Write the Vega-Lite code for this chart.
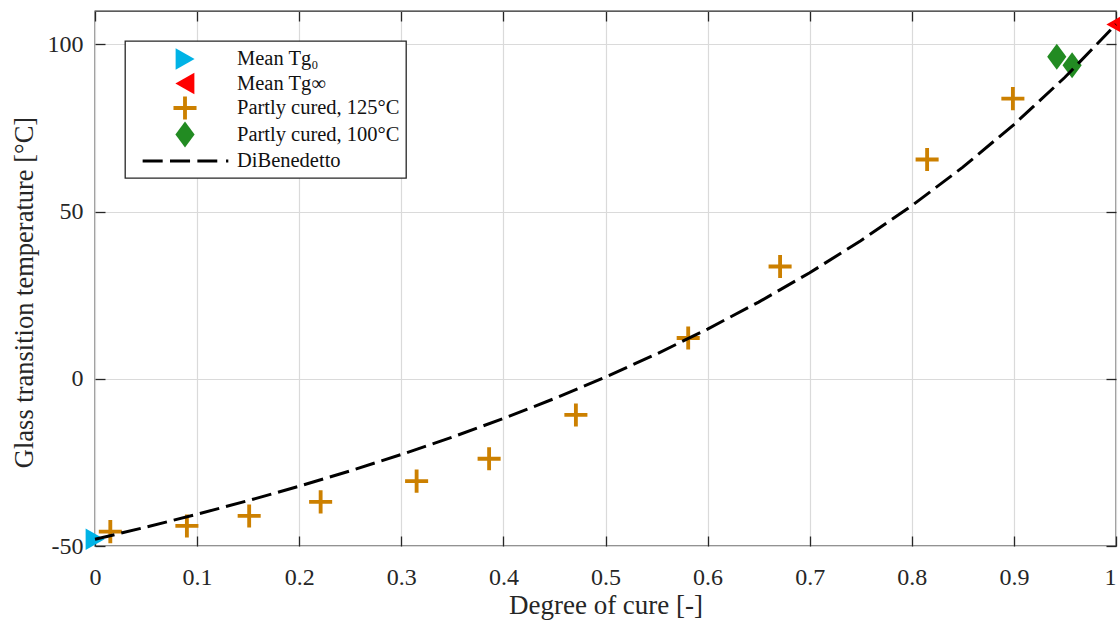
{
  "$schema": "https://vega.github.io/schema/vega-lite/v6.json",
  "width": 1021,
  "height": 535,
  "autosize": "none",
  "padding": {"left": 95, "top": 11, "right": 4, "bottom": 75},
  "background": "white",
  "config": {
    "font": "Liberation Serif",
    "view": {"stroke": "#262626", "strokeWidth": 1.3},
    "axis": {
      "domain": false,
      "labelFont": "Liberation Serif",
      "titleFont": "Liberation Serif",
      "labelColor": "#262626",
      "titleColor": "#262626",
      "titleFontWeight": "normal",
      "tickColor": "#262626",
      "tickWidth": 1.3,
      "tickSize": -10,
      "gridColor": "#dadada",
      "gridWidth": 1.2,
      "labelFlush": false,
      "labelOverlap": false,
      "labelBound": false
    },
    "legend": {
      "orient": "top-left",
      "offset": 30,
      "padding": 6,
      "strokeColor": "#262626",
      "strokeWidth": 1.3,
      "fillColor": "white",
      "symbolSize": 576,
      "symbolOffset": 42,
      "symbolStrokeWidth": 0,
      "labelOffset": 40,
      "labelFont": "Liberation Serif",
      "labelFontSize": 20.5,
      "labelColor": "#111111",
      "rowPadding": 1.5,
      "labelLimit": 400
    }
  },
  "datasets": {
    "measured": [
      {"alpha": 0.0, "tg": -48.0, "series": "Mean Tg₀"},
      {"alpha": 1.0, "tg": 106.0, "series": "Mean Tg∞"},
      {"alpha": 0.015, "tg": -45.7, "series": "Partly cured, 125°C"},
      {"alpha": 0.090, "tg": -44.0, "series": "Partly cured, 125°C"},
      {"alpha": 0.151, "tg": -41.0, "series": "Partly cured, 125°C"},
      {"alpha": 0.221, "tg": -36.8, "series": "Partly cured, 125°C"},
      {"alpha": 0.315, "tg": -30.6, "series": "Partly cured, 125°C"},
      {"alpha": 0.386, "tg": -23.9, "series": "Partly cured, 125°C"},
      {"alpha": 0.471, "tg": -10.8, "series": "Partly cured, 125°C"},
      {"alpha": 0.581, "tg": 12.2, "series": "Partly cured, 125°C"},
      {"alpha": 0.671, "tg": 33.6, "series": "Partly cured, 125°C"},
      {"alpha": 0.815, "tg": 65.6, "series": "Partly cured, 125°C"},
      {"alpha": 0.899, "tg": 83.8, "series": "Partly cured, 125°C"},
      {"alpha": 0.942, "tg": 96.3, "series": "Partly cured, 100°C"},
      {"alpha": 0.957, "tg": 93.8, "series": "Partly cured, 100°C"}
    ],
    "model": [
      {"alpha": 0.00, "tg": -48.00, "series": "DiBenedetto"},
      {"alpha": 0.05, "tg": -44.36, "series": "DiBenedetto"},
      {"alpha": 0.10, "tg": -40.51, "series": "DiBenedetto"},
      {"alpha": 0.15, "tg": -36.44, "series": "DiBenedetto"},
      {"alpha": 0.20, "tg": -32.12, "series": "DiBenedetto"},
      {"alpha": 0.25, "tg": -27.53, "series": "DiBenedetto"},
      {"alpha": 0.30, "tg": -22.64, "series": "DiBenedetto"},
      {"alpha": 0.35, "tg": -17.43, "series": "DiBenedetto"},
      {"alpha": 0.40, "tg": -11.86, "series": "DiBenedetto"},
      {"alpha": 0.45, "tg": -5.89, "series": "DiBenedetto"},
      {"alpha": 0.50, "tg": 0.52, "series": "DiBenedetto"},
      {"alpha": 0.55, "tg": 7.42, "series": "DiBenedetto"},
      {"alpha": 0.60, "tg": 14.88, "series": "DiBenedetto"},
      {"alpha": 0.65, "tg": 22.95, "series": "DiBenedetto"},
      {"alpha": 0.70, "tg": 31.72, "series": "DiBenedetto"},
      {"alpha": 0.75, "tg": 41.29, "series": "DiBenedetto"},
      {"alpha": 0.80, "tg": 51.77, "series": "DiBenedetto"},
      {"alpha": 0.85, "tg": 63.30, "series": "DiBenedetto"},
      {"alpha": 0.90, "tg": 76.04, "series": "DiBenedetto"},
      {"alpha": 0.95, "tg": 90.19, "series": "DiBenedetto"},
      {"alpha": 1.00, "tg": 106.00, "series": "DiBenedetto"}
    ]
  },
  "layer": [
    {
      "data": {"name": "measured"},
      "mark": {"type": "point", "filled": true, "size": 576, "opacity": 1, "strokeWidth": 0},
      "encoding": {
        "x": {
          "field": "alpha",
          "type": "quantitative",
          "scale": {"domain": [0, 1], "nice": false, "zero": false},
          "axis": {
            "orient": "bottom",
            "title": "Degree of cure [-]",
            "titleFontSize": 27,
            "titlePadding": 3,
            "labelFontSize": 24,
            "labelPadding": 29,
            "labelAlign": {"condition": {"test": "datum.value === 1", "value": "right"}, "value": "center"},
            "values": [0, 0.1, 0.2, 0.3, 0.4, 0.5, 0.6, 0.7, 0.8, 0.9, 1],
            "labelExpr": "'' + datum.value",
            "grid": true
          }
        },
        "y": {
          "field": "tg",
          "type": "quantitative",
          "scale": {"domain": [-50, 110], "nice": false, "zero": false},
          "axis": {
            "orient": "left",
            "title": "Glass transition temperature [°C]",
            "titleFontSize": 26.5,
            "titlePadding": 9,
            "titleY": 281,
            "labelFontSize": 24,
            "labelPadding": 22,
            "values": [-50, 0, 50, 100],
            "labelExpr": "'' + datum.value",
            "grid": true
          }
        },
        "color": {
          "field": "series",
          "type": "nominal",
          "scale": {
            "domain": ["Mean Tg₀", "Mean Tg∞", "Partly cured, 125°C", "Partly cured, 100°C", "DiBenedetto"],
            "range": ["#00b3e6", "#ff0000", "#cc8000", "#228b22", "#000000"]
          },
          "legend": {"title": null}
        },
        "shape": {
          "field": "series",
          "type": "nominal",
          "scale": {
            "domain": ["Mean Tg₀", "Mean Tg∞", "Partly cured, 125°C", "Partly cured, 100°C", "DiBenedetto"],
            "range": [
              "M-0.78,-0.9L0.8,0L-0.78,0.9Z",
              "M0.78,-0.9L-0.8,0L0.78,0.9Z",
              "M-0.16,-0.96H0.16V-0.16H0.96V0.16H0.16V0.96H-0.16V0.16H-0.96V-0.16H-0.16Z",
              "M0,-1.08L0.8,0L0,1.08L-0.8,0Z",
              "M-3.53,-0.12H-1.86V0.12H-3.53Z M-1.25,-0.12H0.42V0.12H-1.25Z M1.03,-0.12H2.69V0.12H1.03Z M3.42,-0.12H3.61V0.12H3.42Z"
            ]
          },
          "legend": {"title": null}
        }
      }
    },
    {
      "data": {"name": "model"},
      "mark": {"type": "line", "strokeWidth": 3, "strokeDash": [20, 7]},
      "encoding": {
        "x": {
          "field": "alpha",
          "type": "quantitative",
          "scale": {"domain": [0, 1], "nice": false, "zero": false},
          "axis": {
            "orient": "top",
            "title": null,
            "labels": false,
            "grid": false,
            "values": [0, 0.1, 0.2, 0.3, 0.4, 0.5, 0.6, 0.7, 0.8, 0.9, 1]
          }
        },
        "y": {
          "field": "tg",
          "type": "quantitative",
          "scale": {"domain": [-50, 110], "nice": false, "zero": false},
          "axis": {
            "orient": "right",
            "title": null,
            "labels": false,
            "grid": false,
            "values": [-50, 0, 50, 100]
          }
        },
        "color": {
          "field": "series",
          "type": "nominal",
          "legend": {"title": null}
        }
      }
    }
  ],
  "resolve": {"axis": {"x": "independent", "y": "independent"}}
}
